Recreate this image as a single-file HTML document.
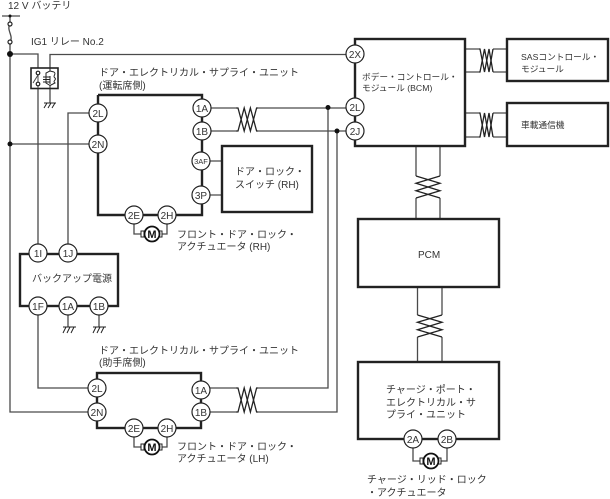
<!DOCTYPE html>
<html><head><meta charset="utf-8"><style>
html,body{margin:0;padding:0;background:#fff}
svg{display:block}
text{font-family:"Liberation Sans","Noto Sans CJK JP",sans-serif;font-size:10px;fill:#333}
.t{fill:none;stroke:#222;stroke-width:2.4}
.w{fill:none;stroke:#4a4a4a;stroke-width:1.3}
.z{fill:none;stroke:#222;stroke-width:1.3}
.g{fill:none;stroke:#222;stroke-width:1}
.c{fill:#fff;stroke:#222;stroke-width:1.2}
.l{text-anchor:middle}
</style></head><body>
<svg width="610" height="499" viewBox="0 0 610 499" xmlns="http://www.w3.org/2000/svg">
<rect width="610" height="499" fill="#fff"/>
<!-- wires -->
<g class="w">
<path d="M2 16H20M10 16V22M10 44V412H97"/>
<path d="M10 24C6 30 14 36 10 42"/>
<path d="M10 54H38V245M38 315V388H97"/>
<path d="M50 68V54.500H355"/>
<path d="M50 88V103"/>
<path d="M10 144H98M98 113H68V245"/>
<path d="M68 315V327M99 315V327"/>
<path d="M202 108H236M258 108H355M202 131H236M258 131H355"/>
<path d="M328 108V388H258M337 131V412H258M201 388H236M201 412H236"/>
<path d="M202 161H222M202 195H222"/>
<path d="M465 49H479M493 49H507M465 72H479M493 72H507"/>
<path d="M465 113H479M493 113H507M465 137H479M493 137H507"/>
<path d="M416 146V176M440 146V176M416 198V219M440 198V219"/>
<path d="M417.500 287V315M442 287V315M417.500 337V362M442 337V362"/>
<path d="M134 224V234H142M167 224V234H161"/>
<path d="M134 437V447H142M167 437V447H161"/>
<path d="M413 448V461H422M447 448V461H439"/>
</g>
<!-- twists -->
<g class="z">
<polyline points="236,108 238,108 244.200,131 250.400,108 256.600,131 258,131"/>
<polyline points="236,131 238,131 244.200,108 250.400,131 256.600,108 258,108"/>
<polyline points="236,388 238,388 244.200,412 250.400,388 256.600,412 258,412"/>
<polyline points="236,412 238,412 244.200,388 250.400,412 256.600,388 258,388"/>
<polyline points="479,49 480,49 484.500,72 489,49 493,72"/>
<polyline points="479,72 480,72 484.500,49 489,72 493,49"/>
<polyline points="479,113 480,113 484.500,137 489,113 493,137"/>
<polyline points="479,137 480,137 484.500,113 489,137 493,113"/>
<polyline points="416,176 440,183.300 416,190.700 440,198"/>
<polyline points="440,176 416,183.300 440,190.700 416,198"/>
<polyline points="417.500,315 442,322.300 417.500,329.700 442,337"/>
<polyline points="442,315 417.500,322.300 442,329.700 417.500,337"/>
</g>
<!-- boxes -->
<g class="t">
<path d="M98 95V215H202V95H98"/>
<rect x="222" y="146" width="90" height="66"/>
<rect x="355" y="39" width="110" height="107"/>
<rect x="507" y="39" width="101" height="42"/>
<rect x="507" y="103" width="101" height="43"/>
<rect x="358" y="219" width="141" height="68"/>
<rect x="358" y="362" width="141" height="77"/>
<rect x="20" y="254" width="98" height="52"/>
<rect x="97" y="373" width="104" height="55"/>
</g>
<rect x="31" y="68" width="27" height="20.500" fill="#fff" stroke="#222" stroke-width="1.600"/>
<!-- relay -->
<g class="g">
<path d="M38 88V72M38 75L33 83" stroke="#4a4a4a"/>
<path d="M50 68V71L46 73V83L50 85.500V88M50 71L54 72"/>
<path d="M43 77H50M43 79.500H50M43 82H50M50 76V84"/>
<path d="M54 72C57 74 52 76 55 78C57 80 52 81 55 83L50 85.500"/>
</g>
<circle cx="38" cy="73" r="1.800" class="c"/><circle cx="38" cy="84" r="1.800" class="c"/>
<circle cx="10" cy="24" r="2" class="c"/><circle cx="10" cy="42" r="2" class="c"/>
<!-- junctions -->
<g fill="#111">
<circle cx="10" cy="16" r="1.500"/><circle cx="10" cy="54" r="3"/><circle cx="10" cy="144" r="2.500"/>
<circle cx="328" cy="107.500" r="2.500"/><circle cx="337" cy="131" r="2.500"/>
</g>
<!-- grounds -->
<g class="g">
<path d="M44 103H56M47 103L44 108M51 103L48 108M55 103L52 108"/>
<path d="M63 327H76M66 327L63 333M70 327L67 333M74 327L71 333"/>
<path d="M93 327H106M96 327L93 333M100 327L97 333M104 327L101 333"/>
</g>
<!-- terminals -->
<g class="c">
<circle cx="98" cy="113" r="9"/><circle cx="98" cy="144" r="9"/>
<circle cx="202" cy="108" r="9"/><circle cx="202" cy="131" r="9"/>
<circle cx="201" cy="161" r="9"/><circle cx="201" cy="195" r="9"/>
<circle cx="134" cy="215" r="9"/><circle cx="167" cy="215" r="9"/>
<circle cx="355" cy="54" r="9"/><circle cx="355" cy="107" r="9"/><circle cx="355" cy="131" r="9"/>
<circle cx="38" cy="253" r="9"/><circle cx="68" cy="253" r="9"/>
<circle cx="38" cy="306" r="9"/><circle cx="68" cy="306" r="9"/><circle cx="99" cy="306" r="9"/>
<circle cx="97" cy="388" r="9"/><circle cx="97" cy="412" r="9"/>
<circle cx="201" cy="390" r="9"/><circle cx="201" cy="412" r="9"/>
<circle cx="134" cy="428" r="9"/><circle cx="167" cy="428" r="9"/>
<circle cx="413" cy="439" r="9"/><circle cx="447" cy="439" r="9"/>
</g>
<!-- motors -->
<g fill="#fff" stroke="#222" stroke-width="1">
<rect x="141" y="231" width="3" height="6"/><rect x="159" y="231" width="3" height="6"/>
<rect x="141" y="444" width="3" height="6"/><rect x="159" y="444" width="3" height="6"/>
<rect x="420" y="458" width="3" height="6"/><rect x="438" y="458" width="3" height="6"/>
</g>
<g fill="#fff" stroke="#111" stroke-width="1.800">
<circle cx="152" cy="234" r="7.500"/><circle cx="152" cy="447" r="7.500"/><circle cx="431" cy="461" r="7.500"/>
</g>
<g class="l">
<text x="152" y="238" style="font-size:11px;font-weight:bold;fill:#111">M</text>
<text x="152" y="451" style="font-size:11px;font-weight:bold;fill:#111">M</text>
<text x="431" y="465" style="font-size:11px;font-weight:bold;fill:#111">M</text>
<text x="98" y="117">2L</text><text x="98" y="148">2N</text>
<text x="202" y="112">1A</text><text x="202" y="135">1B</text>
<text x="201" y="164" style="font-size:7.500px">3AF</text><text x="201" y="199">3P</text>
<text x="134" y="219">2E</text><text x="167" y="219">2H</text>
<text x="355" y="58">2X</text><text x="355" y="111">2L</text><text x="355" y="135">2J</text>
<text x="38" y="257">1I</text><text x="68" y="257">1J</text>
<text x="38" y="310">1F</text><text x="68" y="310">1A</text><text x="99" y="310">1B</text>
<text x="97" y="392">2L</text><text x="97" y="416">2N</text>
<text x="201" y="394">1A</text><text x="201" y="416">1B</text>
<text x="134" y="432">2E</text><text x="167" y="432">2H</text>
<text x="413" y="443">2A</text><text x="447" y="443">2B</text>
</g>
<!-- labels -->
<text x="8" y="9">12 V バッテリ</text>
<text x="31" y="45">IG1 リレー No.2</text>
<text x="99" y="76">ドア・エレクトリカル・サプライ・ユニット</text>
<text x="99" y="89">(運転席側)</text>
<text x="235" y="175">ドア・ロック・</text>
<text x="235" y="188">スイッチ (RH)</text>
<text x="177" y="238">フロント・ドア・ロック・</text>
<text x="177" y="250">アクチュエータ (RH)</text>
<text x="362" y="80" style="font-size:8.700px">ボデー・コントロール・</text>
<text x="362" y="91" style="font-size:8.700px">モジュール (BCM)</text>
<text x="521" y="60" style="font-size:8.700px">SASコントロール・</text>
<text x="521" y="72" style="font-size:8.700px">モジュール</text>
<text x="521" y="128" style="font-size:8.700px">車載通信機</text>
<text x="32" y="282">バックアップ電源</text>
<text x="418" y="258">PCM</text>
<text x="99" y="354">ドア・エレクトリカル・サプライ・ユニット</text>
<text x="99" y="366">(助手席側)</text>
<text x="177" y="450">フロント・ドア・ロック・</text>
<text x="177" y="462">アクチュエータ (LH)</text>
<text x="386" y="393">チャージ・ポート・</text>
<text x="386" y="406">エレクトリカル・サ</text>
<text x="386" y="418">プライ・ユニット</text>
<text x="367" y="483">チャージ・リッド・ロック</text>
<text x="367" y="496">・アクチュエータ</text>
</svg>
</body></html>
